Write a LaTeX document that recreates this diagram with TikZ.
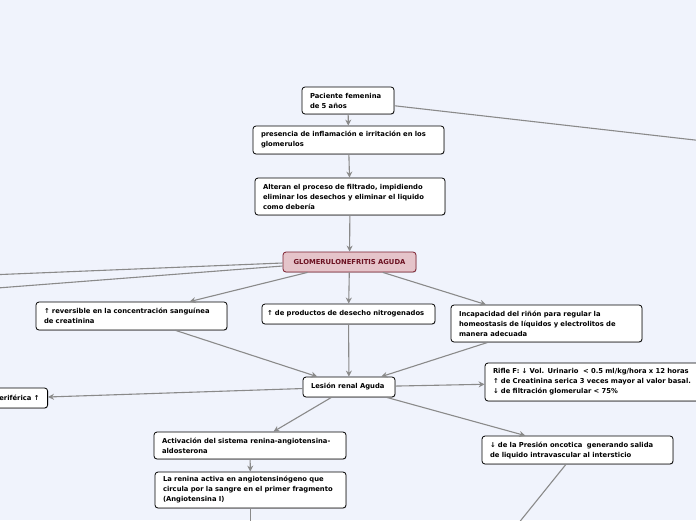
\documentclass[tikz,border=0pt]{standalone}
\usepackage{fontspec}
\setmainfont{DejaVu Sans}
\usetikzlibrary{arrows.meta,shadows}
\definecolor{bgc}{RGB}{240,243,252}
\definecolor{edgec}{RGB}{138,138,138}
\definecolor{gfill}{RGB}{229,196,202}
\definecolor{gdraw}{RGB}{123,30,46}
\definecolor{gtext}{RGB}{107,16,32}
\tikzset{
  box/.style={draw=black, fill=white, rounded corners=3pt, line width=0.8pt,
    align=left, font=\fontsize{6.8}{10}\selectfont\bfseries, inner xsep=8pt, inner ysep=3pt,
    drop shadow={shadow xshift=0.6pt, shadow yshift=-0.8pt, opacity=0.3}},
  mainbox/.style={box, draw=gdraw, fill=gfill, text=gtext, align=center},
  conn/.style={draw=edgec, line width=1.1pt, -{Stealth[length=6pt,width=6pt]}},
  plain/.style={draw=edgec, line width=1.1pt}
}
\begin{document}
\begin{tikzpicture}[x=1pt,y=-1pt]
\useasboundingbox (0,0) rectangle (696,520);
\fill[bgc] (0,0) rectangle (696,520);
\clip (0,0) rectangle (696,520);

\node[box, minimum width=92pt, minimum height=27pt, text width=76pt] (pac) at (348,100.5) {Paciente femenina\\de 5 años};
\node[box, minimum width=191pt, minimum height=28pt, text width=175pt] (pres) at (348.5,140) {presencia de inflamación e irritación en los\\glomerulos};
\node[box, minimum width=190pt, minimum height=37pt, text width=174pt] (alt) at (350,196.5) {Alteran el proceso de filtrado, impidiendo\\eliminar los desechos y eliminar el liquido\\como debería};
\node[mainbox, minimum width=133pt, minimum height=20pt, text width=117pt] (glo) at (349.5,262) {GLOMERULONEFRITIS AGUDA};
\node[box, minimum width=191pt, minimum height=28pt, text width=175pt] (rev) at (131.5,316) {↑ reversible en la concentración sanguínea\\de creatinina};
\node[box, minimum width=173pt, minimum height=20pt, text width=163pt, inner xsep=5pt] (prod) at (348.5,314) {↑ de productos de desecho nitrogenados};
\node[box, minimum width=191pt, minimum height=37pt, text width=175pt] (inc) at (546.5,323.5) {Incapacidad del riñón para regular la\\homeostasis de líquidos y electrolitos de\\manera adecuada};
\node[box, minimum width=92pt, minimum height=20pt, text width=76pt] (les) at (349,387) {Lesión renal Aguda};
\node[box, minimum width=226pt, minimum height=38pt, text width=210pt] (rif) at (598,382) {Rifle F: ↓ Vol. Urinario\ \ < 0.5 ml/kg/hora x 12 horas\\↑ de Creatinina serica 3 veces mayor al valor basal.\\↓ de filtración glomerular < 75\%};
\node[box, minimum height=20pt, anchor=east] (per) at (48,398) {periférica ↑};
\node[box, minimum width=192pt, minimum height=27pt, text width=176pt] (act) at (250,445.5) {Activación del sistema renina-angiotensina-\\aldosterona};
\node[box, minimum width=191pt, minimum height=36pt, text width=175pt] (ren) at (250.5,490) {La renina activa en angiotensinógeno que\\circula por la sangre en el primer fragmento\\(Angiotensina I)};
\node[box, minimum width=191pt, minimum height=28pt, text width=175pt] (onc) at (577.5,450) {↓ de la Presión oncotica\ \ generando salida\\de liquido intravascular al intersticio};

\coordinate (pacout) at (800,152);
\coordinate (gloutA) at (-100,278.6);
\coordinate (gloutB) at (-100,295.5);
\coordinate (renout) at (250.5,540);
\coordinate (oncout) at (505,540);

\draw[conn] (pac) -- (pres);
\draw[plain] (pac) -- (pacout);
\draw[conn] (pres) -- (alt);
\draw[conn] (alt) -- (glo);
\draw[plain] (glo.west) ++(0,1) -- (gloutA);
\draw[plain] (glo.west) ++(0,4) -- (gloutB);
\draw[conn] (glo) -- (rev);
\draw[conn] (glo) -- (prod);
\draw[conn] (glo) -- (inc);
\draw[conn] (rev) -- (les);
\draw[conn] (prod) -- (les);
\draw[conn] (inc) -- (les);
\draw[conn] (les) -- (rif);
\draw[conn] (les) -- (per);
\draw[conn] (les) -- (act);
\draw[conn] (les) -- (onc);
\draw[conn] (act) -- (ren);
\draw[plain] (ren) -- (renout);
\draw[plain] (onc) -- (oncout);
\end{tikzpicture}
\end{document}
